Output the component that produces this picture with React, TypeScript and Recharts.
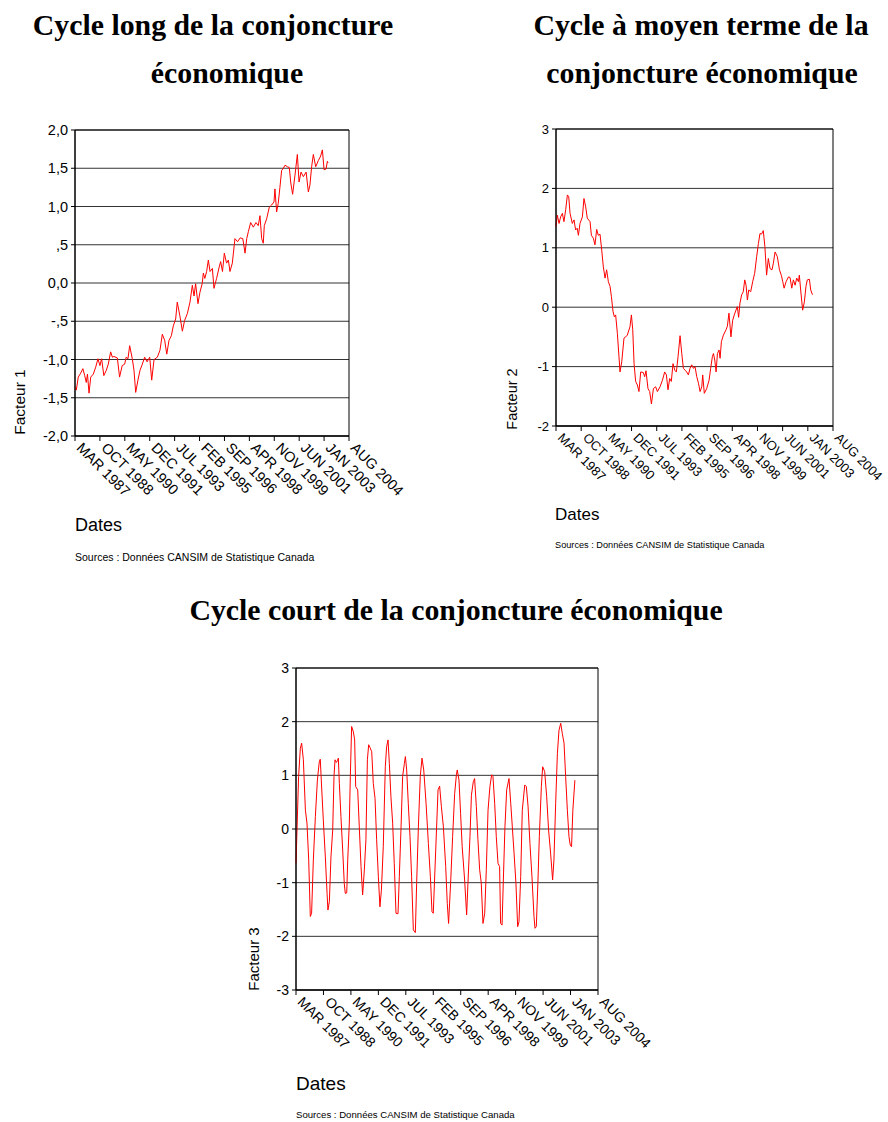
import { LineChart, Line, XAxis, YAxis, CartesianGrid, ReferenceArea } from 'recharts'

// month index from MAR 1987, one label every 19 months
const MONTH_TICKS = [0, 19, 38, 57, 76, 95, 114, 133, 152, 171, 190, 209]
const DATE_LABELS = [
  'MAR 1987', 'OCT 1988', 'MAY 1990', 'DEC 1991', 'JUL 1993', 'FEB 1995',
  'SEP 1996', 'APR 1998', 'NOV 1999', 'JUN 2001', 'JAN 2003', 'AUG 2004',
]

const F1_TICKS = [-2, -1.5, -1, -0.5, 0, 0.5, 1, 1.5, 2]
const F1_LABELS = ['-2,0', '-1,5', '-1,0', '-,5', '0,0', ',5', '1,0', '1,5', '2,0']
const F2_TICKS = [-2, -1, 0, 1, 2, 3]
const F3_TICKS = [-3, -2, -1, 0, 1, 2, 3]

// [month, value]
const FACTEUR1: [number, number][] = [
  [0, -1.36], [1, -1.4], [2.5, -1.23], [4.3, -1.18], [6, -1.12], [7.4, -1.21], [8.6, -1.3], [9.5, -1.19],
  [10.7, -1.44], [12, -1.23], [14, -1.19], [15.8, -1.1], [17.5, -0.99], [19, -1.08], [20.3, -0.99], [22, -1.21],
  [23.9, -1.14], [25.4, -1.06], [27.2, -0.9], [28.5, -0.97], [29.7, -0.96], [32.3, -0.98], [34, -1.23], [36, -1.08],
  [37.9, -1.06], [39, -0.97], [40.4, -0.99], [41.7, -0.82], [43.7, -0.99], [45, -1.14], [46.3, -1.43], [48, -1.27],
  [49.6, -1.14], [51.4, -1.06], [53.1, -0.97], [55, -1.03], [57, -0.97], [58.5, -1.27], [60.3, -1.0], [62.8, -0.97],
  [64.8, -0.88], [66.6, -0.67], [68.4, -0.75], [70, -0.93], [71.7, -0.75], [73.5, -0.69], [75, -0.56], [76.8, -0.47],
  [78, -0.25], [80, -0.43], [81.9, -0.63], [83.6, -0.49], [85.7, -0.4], [87.7, -0.25], [89.5, -0.03], [90.8, -0.17],
  [92, -0.01], [93.8, -0.27], [95.3, -0.12], [97, -0.01], [97.9, 0.13], [99, 0.06], [100.4, 0.15], [101.7, 0.3],
  [103, 0.15], [104.8, 0.19], [106, -0.07], [108, 0.06], [110, 0.21], [111.1, 0.28], [112.5, 0.15], [113.9, 0.39],
  [115.6, 0.26], [117, 0.3], [118.2, 0.15], [120, 0.26], [122, 0.58], [124, 0.54], [126, 0.59], [128, 0.58],
  [129.7, 0.39], [131, 0.58], [132.2, 0.67], [134, 0.79], [136, 0.73], [138, 0.79], [139.8, 0.75], [141.1, 0.88],
  [142.4, 0.58], [143.6, 0.52], [144.4, 0.75], [146.2, 0.84], [148.2, 0.99], [150, 1.02], [151.8, 1.06], [152.5, 1.23],
  [153.8, 0.93], [155, 1.04], [156.3, 1.25], [157.6, 1.47], [158.9, 1.5], [160.2, 1.54], [162, 1.52], [163.5, 1.51],
  [164.5, 1.32], [166, 1.16], [167.8, 1.41], [169.6, 1.68], [170.9, 1.32], [172.4, 1.45], [174.2, 1.39], [176.3, 1.45],
  [178, 1.19], [179.2, 1.28], [180.5, 1.52], [181.8, 1.68], [183.6, 1.52], [185.6, 1.6], [187.4, 1.66], [188.7, 1.74],
  [190, 1.48], [191.5, 1.49], [192.5, 1.59], [193, 1.57],
]

const FACTEUR2: [number, number][] = [
  [0, 1.36], [1, 1.55], [2.3, 1.41], [3.5, 1.52], [4.8, 1.58], [6, 1.44], [7.3, 1.64], [8.6, 1.89], [9.6, 1.86],
  [10.6, 1.58], [12.3, 1.41], [13.6, 1.47], [14.8, 1.3], [16, 1.33], [16.9, 1.21], [18.1, 1.41], [19.9, 1.52],
  [21.1, 1.83], [22.4, 1.69], [23.6, 1.5], [25.7, 1.44], [26.7, 1.21], [28.2, 1.16], [29.4, 1.05], [30.7, 1.31],
  [31.9, 1.21], [33.2, 1.23], [34.5, 0.96], [35.7, 0.68], [37, 0.49], [38.2, 0.63], [39.5, 0.43], [40.8, 0.35],
  [41.8, 0.18], [43, -0.07], [44, -0.16], [45, -0.13], [46.3, -0.44], [47.5, -0.83], [48.3, -1.09], [49.6, -0.92],
  [51.3, -0.52], [52.6, -0.5], [53.8, -0.47], [55.8, -0.33], [56.9, -0.13], [57.9, -0.38], [58.9, -0.95], [60.1, -1.25],
  [61.4, -1.31], [62.6, -1.42], [63.9, -1.09], [65.9, -1.1], [66.9, -1.17], [67.9, -1.07], [69.4, -1.37], [70.7, -1.42],
  [72, -1.63], [73.5, -1.37], [75.2, -1.34], [76.5, -1.42], [78.5, -1.34], [80.3, -1.23], [82, -1.09], [83.3, -1.14],
  [84.5, -1.39], [85.8, -1.2], [87, -1.25], [88.3, -0.95], [89.6, -1.06], [90.8, -1.09], [92.1, -0.83], [93.6, -0.48],
  [94.9, -0.78], [96.1, -1.03], [97.4, -1.06], [98.6, -1.09], [99.9, -1.14], [101.1, -1.03], [102.4, -0.97], [103.7, -1.03],
  [104.9, -1.0], [106.2, -1.17], [107.5, -1.28], [108.7, -1.42], [110, -1.34], [110.7, -1.14], [111.9, -1.45], [113.7, -1.37],
  [115.5, -1.23], [116.7, -1.03], [118, -0.83], [118.8, -0.78], [119.8, -0.89], [120.8, -1.09], [121.8, -0.78], [123, -0.72],
  [123.8, -0.86], [124.8, -0.58], [126.3, -0.47], [128.3, -0.38], [129.3, -0.32], [130.5, -0.1], [132, -0.5], [133.3, -0.22],
  [134.5, -0.13], [135.8, -0.05], [136.8, 0.01], [137.8, -0.17], [138.8, 0.07], [140.1, 0.21], [141.3, 0.26], [142.4, 0.46],
  [143.4, 0.37], [144.4, 0.12], [145.4, 0.29], [146.9, 0.26], [148.4, 0.43], [149.9, 0.57], [151.4, 0.85], [152.7, 1.07],
  [153.9, 1.24], [155.1, 1.23], [156.4, 1.29], [157.6, 1.02], [158.9, 0.54], [160.2, 0.82], [161.5, 0.65], [163, 0.63],
  [164, 0.74], [165.3, 0.93], [167, 0.85], [168.6, 0.63], [170.1, 0.53], [171.1, 0.43], [172.1, 0.32], [173.6, 0.43],
  [175.4, 0.51], [176.6, 0.5], [177.9, 0.32], [179.1, 0.46], [180.4, 0.37], [181.6, 0.49], [182.9, 0.43], [183.6, 0.54],
  [184.6, 0.29], [186.1, -0.05], [187.4, 0.09], [188.6, 0.35], [189.6, 0.46], [191.2, 0.47], [192.2, 0.29], [193.5, 0.21],
]

const FACTEUR3: [number, number][] = [
  [0, -0.64], [1.8, 0.98], [3, 1.5], [3.9, 1.6], [5.1, 1.29], [6.5, 0.35], [7.6, 0.11], [8.8, -0.58], [9.9, -1.63],
  [10.8, -1.57], [12, -0.58], [13.4, 0.23], [14.8, 0.91], [16.1, 1.25], [16.8, 1.3], [17.5, 0.91], [18.9, 0.17],
  [20.3, -0.52], [21.5, -1.2], [22.1, -1.51], [23.1, -1.35], [24.2, -0.52], [25.4, -0.02], [26.3, 0.98], [27, 1.29],
  [27.9, 1.24], [28.6, 1.27], [29.3, 1.32], [30, 0.85], [31.1, 0.23], [32.3, -0.39], [33.4, -1.01], [34.1, -1.2],
  [35.1, -1.19], [35.8, -0.58], [36.9, 0.11], [37.6, 0.98], [38.5, 1.91], [39.7, 1.81], [40.6, 1.66], [41.3, 0.79],
  [42.7, 0.73], [43.8, 0.04], [45, -0.7], [46.1, -1.23], [47.3, -0.76], [48.4, -0.2], [49.4, 1.29], [50.3, 1.57],
  [51.2, 1.52], [52.4, 1.44], [53.5, 0.85], [54.7, 0.57], [55.8, -0.2], [57, -0.89], [58.1, -1.45], [59.1, -1.14],
  [60.4, -0.33], [61.8, 1.16], [62.7, 1.53], [63.7, 1.66], [64.6, 1.22], [65.7, 0.6], [66.9, 0.11], [68, -0.64],
  [69.2, -1.57], [70.6, -1.58], [71.5, -0.89], [72.7, 0.04], [73.8, 0.98], [75, 1.22], [75.7, 1.35], [76.6, 1.1],
  [77.7, 0.48], [78.9, -0.14], [80, -0.89], [81.2, -1.88], [82.6, -1.93], [83.5, -1.01], [84.7, 0.04], [86, 0.98],
  [87.2, 1.32], [88.4, 1.1], [90, 0.48], [91.6, -0.27], [93, -0.89], [94.1, -1.54], [95, -1.57], [96.7, -0.39],
  [98.3, 0.73], [99.4, 0.8], [100.6, 0.42], [102, 0.04], [103.6, -0.7], [104.7, -1.39], [105.6, -1.76], [107, -1.01],
  [108.4, -0.14], [109.8, 0.66], [111, 1.01], [111.6, 1.1], [112.8, 0.91], [113.9, 0.29], [115, -0.33], [116.7, -0.95],
  [118.1, -1.6], [119, -1.01], [120.4, -0.14], [121.4, 0.63], [122.7, 0.88], [123.6, 0.94], [124.8, 0.42], [125.9, -0.2],
  [127.1, -0.76], [128.2, -1.0], [129.4, -1.76], [130.6, -1.57], [131.7, -0.76], [132.9, 0.35], [134.2, 0.79], [135.4, 1.01],
  [136.3, 0.98], [137.5, 0.48], [138.6, -0.14], [139.8, -0.64], [140.9, -0.7], [141.6, -1.76], [142.6, -1.79], [143.5, -0.95],
  [144.6, 0.04], [145.8, 0.73], [147.4, 0.94], [148.6, 0.48], [149.7, 0.04], [150.9, -0.45], [152.2, -1.01], [153.4, -1.82],
  [154.3, -1.73], [155.5, -0.89], [156.6, 0.35], [158.3, 0.82], [159.4, 0.79], [160.6, 0.42], [161.9, -0.27], [163.3, -0.89],
  [164.7, -1.63], [165.4, -1.85], [166.3, -1.82], [167.4, -1.01], [168.4, -0.14], [169.8, 0.79], [170.7, 1.16], [172.1, 1.07],
  [173.5, 0.6], [174.8, -0.02], [176.2, -0.45], [177.6, -0.95], [178.5, -0.58], [179.7, 0.48], [180.9, 1.41], [182, 1.84],
  [183.2, 1.97], [184.3, 1.78], [185.5, 1.6], [186.6, 0.98], [187.8, 0.35], [188.9, -0.14], [189.8, -0.3], [190.7, -0.33],
  [191.6, 0.35], [193, 0.91],
]

const SANS = 'Arial, "Liberation Sans", sans-serif'
const SERIF = '"Times New Roman", "Liberation Serif", serif'
const SOURCE = 'Sources : Données CANSIM de Statistique Canada'

interface PanelProps {
  points: [number, number][]
  yTicks: number[]
  yLabels?: string[]
  plotLeft: number
  plotTop: number
  plotW: number
  plotH: number
  tickFont: number
}

function FactorPanel({ points, yTicks, yLabels, plotLeft, plotTop, plotW, plotH, tickFont }: PanelProps) {
  const yw = 60
  const padTop = 10
  const xh = 80
  const padRight = 80
  const data = points.map(([m, v]) => ({ m, v }))
  const yMin = yTicks[0]
  const yMax = yTicks[yTicks.length - 1]

  const DateTick = (props: any) => {
    const { x, y, payload } = props
    const i = MONTH_TICKS.indexOf(payload.value)
    return (
      <g transform={`translate(${x},${y}) rotate(45)`}>
        <text x={6} y={0} dy="0.35em" textAnchor="start" fontSize={tickFont} fontFamily={SANS} fill="#000">
          {DATE_LABELS[i]}
        </text>
      </g>
    )
  }

  return (
    <div style={{ position: 'absolute', left: plotLeft - yw, top: plotTop - padTop }}>
      <LineChart
        width={yw + plotW + padRight}
        height={padTop + plotH + xh}
        data={data}
        margin={{ top: padTop, right: padRight, bottom: 0, left: 0 }}
      >
        <CartesianGrid vertical={false} stroke="#333" />
        <XAxis
          dataKey="m"
          type="number"
          domain={[0, 209]}
          ticks={MONTH_TICKS}
          interval={0}
          height={xh}
          tickSize={5}
          tickMargin={0}
          tick={DateTick}
          axisLine={{ stroke: '#000' }}
          tickLine={{ stroke: '#000' }}
        />
        <YAxis
          type="number"
          domain={[yMin, yMax]}
          ticks={yTicks}
          interval={0}
          width={yw}
          tickSize={4}
          tickMargin={3}
          tickFormatter={(v: number) => (yLabels ? yLabels[yTicks.indexOf(v)] : String(v))}
          tick={{ fill: '#000', fontSize: tickFont, fontFamily: SANS }}
          axisLine={{ stroke: '#000' }}
          tickLine={{ stroke: '#000' }}
        />
        <ReferenceArea x1={0} x2={209} y1={yMin} y2={yMax} fill="none" stroke="#000" strokeOpacity={1} />
        <Line
          dataKey="v"
          type="linear"
          stroke="#ff0000"
          strokeWidth={1}
          dot={false}
          isAnimationActive={false}
        />
      </LineChart>
    </div>
  )
}

function Title({ text, cx, top }: { text: string; cx: number; top: number }) {
  return (
    <div
      style={{
        position: 'absolute', left: cx - 350, width: 700, top, textAlign: 'center',
        fontFamily: SERIF, fontWeight: 'bold', fontSize: 29.8, lineHeight: 1, whiteSpace: 'nowrap',
      }}
    >
      {text}
    </div>
  )
}

function Label({ text, left, cy, size }: { text: string; left: number; cy: number; size: number }) {
  return (
    <div
      style={{
        position: 'absolute', left, top: cy, transform: 'translateY(-50%)',
        fontFamily: SANS, fontSize: size, lineHeight: 1, whiteSpace: 'nowrap',
      }}
    >
      {text}
    </div>
  )
}

function AxisTitle({ text, cx, cy, size }: { text: string; cx: number; cy: number; size: number }) {
  return (
    <div
      style={{
        position: 'absolute', left: cx, top: cy, transform: 'translate(-50%, -50%) rotate(-90deg)',
        fontFamily: SANS, fontSize: size, lineHeight: 1, whiteSpace: 'nowrap',
      }}
    >
      {text}
    </div>
  )
}

export default function App() {
  return (
    <div style={{ position: 'absolute', left: 0, top: 0, width: 888, height: 1122, background: '#fff' }}>
      <Title text="Cycle long de la conjoncture" cx={213} top={10} />
      <Title text="économique" cx={227} top={58} />
      <Title text="Cycle à moyen terme de la" cx={701} top={10} />
      <Title text="conjoncture économique" cx={702} top={58} />
      <Title text="Cycle court de la conjoncture économique" cx={456} top={595} />

      <FactorPanel points={FACTEUR1} yTicks={F1_TICKS} yLabels={F1_LABELS}
        plotLeft={75} plotTop={130} plotW={274} plotH={306} tickFont={14.5} />
      <AxisTitle text="Facteur 1" cx={20} cy={402} size={15.5} />
      <Label text="Dates" left={75} cy={525} size={18} />
      <Label text={SOURCE} left={75} cy={557} size={10.5} />

      <FactorPanel points={FACTEUR2} yTicks={F2_TICKS}
        plotLeft={556} plotTop={129} plotW={277} plotH={297} tickFont={13} />
      <AxisTitle text="Facteur 2" cx={512} cy={399} size={14.5} />
      <Label text="Dates" left={555} cy={514} size={17} />
      <Label text={SOURCE} left={555} cy={546} size={9.2} />

      <FactorPanel points={FACTEUR3} yTicks={F3_TICKS}
        plotLeft={296} plotTop={668} plotW={302} plotH={322} tickFont={14} />
      <AxisTitle text="Facteur 3" cx={253} cy={959} size={15} />
      <Label text="Dates" left={296} cy={1083} size={19} />
      <Label text={SOURCE} left={296} cy={1115} size={9.6} />
    </div>
  )
}
